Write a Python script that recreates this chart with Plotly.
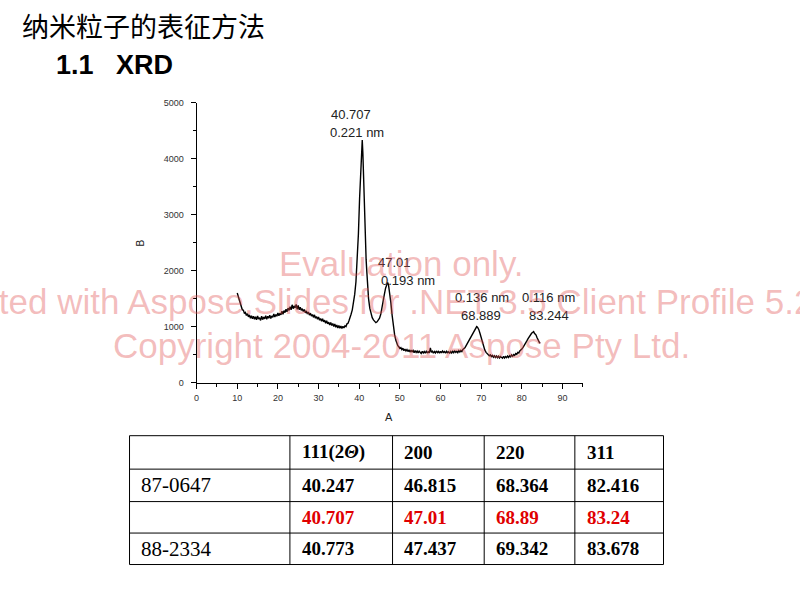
import plotly.graph_objects as go

# ---------------- data ----------------
two_theta = [
    10.00, 10.25, 10.50, 10.75, 11.00, 11.25, 11.50, 11.75, 12.00, 12.25, 12.50, 12.75,
    13.00, 13.25, 13.50, 13.75, 14.00, 14.25, 14.50, 14.75, 15.00, 15.25, 15.50, 15.75,
    16.00, 16.25, 16.50, 16.75, 17.00, 17.25, 17.50, 17.75, 18.00, 18.25, 18.50, 18.75,
    19.00, 19.25, 19.50, 19.75, 20.00, 20.25, 20.50, 20.75, 21.00, 21.25, 21.50, 21.75,
    22.00, 22.25, 22.50, 22.75, 23.00, 23.25, 23.50, 23.75, 24.00, 24.25, 24.50, 24.75,
    25.00, 25.25, 25.50, 25.75, 26.00, 26.25, 26.50, 26.75, 27.00, 27.25, 27.50, 27.75,
    28.00, 28.25, 28.50, 28.75, 29.00, 29.25, 29.50, 29.75, 30.00, 30.25, 30.50, 30.75,
    31.00, 31.25, 31.50, 31.75, 32.00, 32.25, 32.50, 32.75, 33.00, 33.25, 33.50, 33.75,
    34.00, 34.25, 34.50, 34.75, 35.00, 35.25, 35.50, 35.75, 36.00, 36.25, 36.50, 36.75,
    37.00, 37.25, 37.50, 37.75, 38.00,
    38.3, 38.6, 38.9, 39.2, 39.5, 39.8, 40.1, 40.4, 40.6, 40.75, 40.9, 41.1, 41.3, 41.5,
    41.7, 41.9, 42.1, 42.3, 42.6, 42.9, 43.2, 43.5, 43.8, 44.1, 44.4, 44.7, 45.0, 45.3,
    45.6, 45.9, 46.2, 46.5, 46.8, 47.0, 47.2, 47.5, 47.8, 48.1, 48.4, 48.7, 49.0, 49.3,
    49.50, 49.75, 50.00, 50.25, 50.50, 50.75, 51.00, 51.25, 51.50, 51.75, 52.00, 52.25,
    52.50, 52.75, 53.00, 53.25, 53.50, 53.75, 54.00, 54.25, 54.50, 54.75, 55.00, 55.25,
    55.50, 55.75, 56.00, 56.25, 56.50, 56.75, 57.00, 57.25, 57.50, 57.75, 58.00, 58.25,
    58.50, 58.75, 59.00, 59.25, 59.50, 59.75, 60.00, 60.25, 60.50, 60.75, 61.00, 61.25,
    61.50, 61.75, 62.00, 62.25, 62.50, 62.75, 63.00, 63.25, 63.50, 63.75, 64.00, 64.25,
    64.50, 64.75, 65.00, 65.25, 65.50, 65.75, 66.00,
    66.3, 66.6, 66.9, 67.2, 67.5, 67.8, 68.1, 68.4, 68.7, 68.9, 69.1, 69.4, 69.7, 70.0,
    70.3, 70.6, 70.9, 71.2,
    71.50, 71.75, 72.00, 72.25, 72.50, 72.75, 73.00, 73.25, 73.50, 73.75, 74.00, 74.25,
    74.50, 74.75, 75.00, 75.25, 75.50, 75.75, 76.00, 76.25, 76.50, 76.75, 77.00, 77.25,
    77.50, 77.75, 78.00, 78.25, 78.50, 78.75, 79.00, 79.25, 79.50, 79.75, 80.00,
    80.3, 80.6, 80.9, 81.2, 81.5, 81.8, 82.1, 82.4, 82.7, 82.9, 83.1, 83.3, 83.5, 83.7,
    83.9, 84.1, 84.3, 84.5,
]
intensity = [
    1600, 1530, 1470, 1390, 1365, 1300, 1295, 1240, 1255, 1200, 1230, 1175,
    1210, 1150, 1195, 1140, 1185, 1130, 1175, 1120, 1190, 1135, 1160, 1110,
    1185, 1125, 1170, 1140, 1195, 1130, 1185, 1150, 1205, 1145, 1190, 1165,
    1225, 1170, 1215, 1185, 1245, 1195, 1240, 1210, 1275, 1220, 1285, 1250,
    1310, 1265, 1330, 1290, 1355, 1300, 1390, 1320, 1370, 1335, 1395, 1310,
    1380, 1300, 1345, 1290, 1320, 1270, 1305, 1245, 1280, 1225, 1260, 1205,
    1240, 1190, 1215, 1165, 1210, 1150, 1180, 1130, 1170, 1115, 1145, 1095,
    1140, 1085, 1115, 1060, 1105, 1050, 1080, 1030, 1075, 1020, 1055, 1000,
    1045, 990, 1030, 975, 1020, 970, 1010, 965, 1005, 975, 1015, 1000,
    1050, 1060, 1110, 1150, 1220,
    1300, 1420, 1580, 1800, 2150, 2650, 3300, 3950, 4300, 4330, 4100, 3550, 2950, 2500,
    2200, 1950, 1700, 1500, 1330, 1230, 1160, 1120, 1090, 1070, 1085, 1110, 1150, 1220,
    1320, 1450, 1580, 1690, 1760, 1790, 1750, 1620, 1420, 1200, 1000, 860, 760, 690,
    660, 640, 610, 625, 590, 615, 570, 600, 565, 590, 555, 585,
    545, 580, 550, 575, 535, 570, 540, 565, 530, 560, 545, 520,
    560, 530, 555, 525, 560, 535, 550, 530, 620, 540, 560, 525,
    555, 530, 565, 535, 555, 525, 560, 530, 565, 540, 555, 525,
    560, 535, 550, 520, 555, 530, 560, 535, 565, 540, 560, 535,
    570, 545, 575, 555, 590, 600, 620,
    660, 700, 740, 790, 830, 880, 920, 960, 990, 1000, 990, 950, 880, 800,
    720, 640, 580, 540,
    515, 500, 480, 495, 465, 485, 455, 480, 450, 475, 445, 470,
    440, 465, 450, 435, 470, 440, 465, 445, 475, 450, 480, 460,
    495, 470, 500, 485, 520, 505, 540, 530, 565, 575, 600,
    630, 660, 700, 740, 780, 820, 850, 880, 900, 910, 880, 870, 850, 810,
    770, 740, 720, 700,
]

peak_labels = ["40.707", "0.221 nm", "47.01", "0.193 nm", "0.136 nm", "68.889", "0.116 nm", "83.244"]
peak_label_x = [38.1, 39.4, 48.7, 51.9, 70.2, 69.9, 86.6, 86.6]
peak_label_y = [4795, 4460, 2140, 1826, 1528, 1194, 1528, 1194]

x_tick_vals = [0, 10, 20, 30, 40, 50, 60, 70, 80, 90]
y_tick_vals = [0, 1000, 2000, 3000, 4000, 5000]

table_header = ["", "111(2<i>Θ</i>)", "200", "220", "311"]
row_labels = ["87-0647", "", "88-2334"]
col_111 = ["40.247", "40.707", "40.773"]
col_200 = ["46.815", "47.01", "47.437"]
col_220 = ["68.364", "68.89", "69.342"]
col_311 = ["82.416", "83.24", "83.678"]
row_colors = ["black", "#e00000", "black"]

title_text = "纳米粒子的表征方法"
subtitle_text = "1.1\u00a0\u00a0\u00a0XRD"
watermark_lines = [
    "Evaluation only.",
    "Created with Aspose.Slides for .NET 3.5 Client Profile 5.2.0.0.",
    "Copyright 2004-2011 Aspose Pty Ltd.",
]

# ---------------- layout helpers ----------------
W, H = 800, 600


def px_x(p):
    return p / W


def px_y(p):
    return 1 - p / H


fig = go.Figure()
fig.add_trace(go.Scatter(
    x=two_theta, y=intensity, mode="lines",
    line=dict(color="black", width=1.4),
    showlegend=False, hoverinfo="skip",
))

annotations = []
shapes = []

# peak labels
for t, x, y in zip(peak_labels, peak_label_x, peak_label_y):
    annotations.append(dict(
        x=x, y=y, xref="x", yref="y", text=t, showarrow=False,
        font=dict(family="Arial", size=13, color="#222"),
        xanchor="center", yanchor="middle",
    ))

# titles and axis titles
annotations += [
    dict(x=px_x(17), y=px_y(21), xref="paper", yref="paper", text=title_text,
         showarrow=False, xanchor="left", yanchor="middle",
         font=dict(family="Noto Sans CJK SC", size=27, color="black")),
    dict(x=px_x(51), y=px_y(61), xref="paper", yref="paper", text=f"<b>{subtitle_text}</b>",
         showarrow=False, xanchor="left", yanchor="middle",
         font=dict(family="Arial", size=27, color="black")),
    dict(x=px_x(138), y=px_y(242), xref="paper", yref="paper", text="B", textangle=-90,
         showarrow=False, xanchor="center", yanchor="middle",
         font=dict(family="Arial", size=10, color="#222")),
    dict(x=px_x(387), y=px_y(419), xref="paper", yref="paper", text="A",
         showarrow=False, xanchor="center", yanchor="middle",
         font=dict(family="Arial", size=11, color="#222")),
]

# table drawn with shapes + annotations
col_edges = [127, 288, 391, 483, 574, 663]
row_edges = [438, 472, 505, 537, 569]
for xe in col_edges:
    shapes.append(dict(type="line", xref="paper", yref="paper",
                       x0=px_x(xe), x1=px_x(xe), y0=px_y(row_edges[0]), y1=px_y(row_edges[-1]),
                       line=dict(color="black", width=1)))
for ye in row_edges:
    shapes.append(dict(type="line", xref="paper", yref="paper",
                       x0=px_x(col_edges[0]), x1=px_x(col_edges[-1]), y0=px_y(ye), y1=px_y(ye),
                       line=dict(color="black", width=1)))


def cell_text(ci, ri, text, color, family, size, bold):
    if not text:
        return
    xc = col_edges[ci] + 10
    yc = (row_edges[ri] + row_edges[ri + 1]) / 2
    annotations.append(dict(
        x=px_x(xc), y=px_y(yc), xref="paper", yref="paper",
        text=f"<b>{text}</b>" if bold else text, showarrow=False,
        xanchor="left", yanchor="middle",
        font=dict(family=family, size=size, color=color),
    ))


for ci, h in enumerate(table_header):
    cell_text(ci, 0, h, "black", "Liberation Serif", 19, True)
for ri, lab in enumerate(row_labels):
    cell_text(0, ri + 1, lab, "black", "Liberation Serif", 21, False)
for ci, col in enumerate([col_111, col_200, col_220, col_311], start=1):
    for ri, v in enumerate(col):
        cell_text(ci, ri + 1, v, row_colors[ri], "Liberation Serif", 19, True)

# watermark
for t, yp in zip(watermark_lines, [263, 302, 346]):
    annotations.append(dict(
        x=0.5, y=px_y(yp), xref="paper", yref="paper", text=t, showarrow=False,
        xanchor="center", yanchor="middle",
        font=dict(family="Arial", size=35, color="rgba(225,80,80,0.38)"),
    ))

axis_common = dict(
    showgrid=False, zeroline=False, showline=True, linecolor="black", linewidth=1,
    ticks="outside", ticklen=5, tickwidth=1, tickcolor="black",
    tickfont=dict(family="Arial", size=9, color="#333"),
)

fig.update_layout(
    width=W, height=H, autosize=False,
    margin=dict(l=0, r=0, t=0, b=0),
    paper_bgcolor="white", plot_bgcolor="white",
    xaxis=dict(domain=[px_x(194.3), px_x(582)], range=[0, 95], tickvals=x_tick_vals,
               ticklabelstandoff=2,
               minor=dict(dtick=5, tick0=0, ticklen=3, ticks="outside", tickcolor="black"),
               **axis_common),
    yaxis=dict(domain=[px_y(384), px_y(99.3)], range=[0, 5000], tickvals=y_tick_vals,
               ticklabelstandoff=5,
               minor=dict(dtick=500, tick0=0, ticklen=3, ticks="outside", tickcolor="black"),
               **axis_common),
    annotations=annotations,
    shapes=shapes,
    showlegend=False,
)

fig.write_html("out.html")
